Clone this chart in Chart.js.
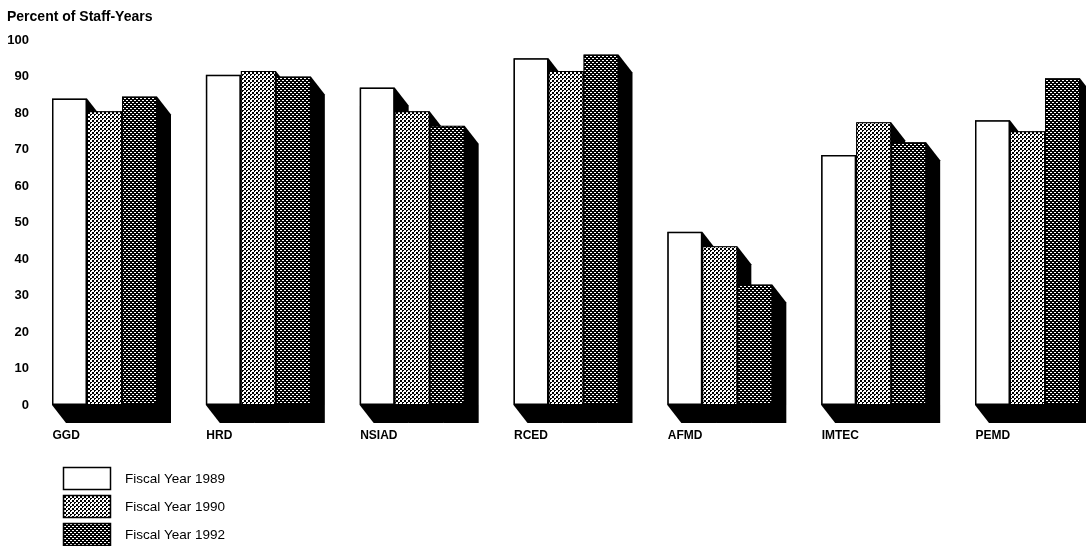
<!DOCTYPE html>
<html>
<head>
<meta charset="utf-8">
<script src="https://cdn.jsdelivr.net/npm/chart.js@4/dist/chart.umd.min.js"></script>
<style>
  html, body { margin: 0; padding: 0; background: #fff; overflow: hidden; }
  #wrap { width: 1086px; height: 546px; position: relative; }
</style>
</head>
<body>
<div id="wrap"><canvas id="c" width="1086" height="546"></canvas></div>
<script>
// Divisions and share of staff-years (percent) per fiscal year
const divisions = ['GGD', 'HRD', 'NSIAD', 'RCED', 'AFMD', 'IMTEC', 'PEMD'];
const fy1989 = [84, 90.5, 87, 95, 47.5, 68.5, 78];
const fy1990 = [80.5, 91.5, 80.5, 91.5, 43.5, 77.5, 75];
const fy1992 = [84.5, 90, 76.5, 96, 33, 72, 89.5];
const seriesLabels = ['Fiscal Year 1989', 'Fiscal Year 1990', 'Fiscal Year 1992'];
const yMin = 0, yMax = 100, yStep = 10;
const yTitle = 'Percent of Staff-Years';

Chart.defaults.font.family = '"Liberation Sans", Arial, Helvetica, sans-serif';
Chart.defaults.color = '#000';

// Halftone fills built from small pixel tiles (1 = black)
function halftone(rows) {
  const n = rows.length;
  const t = document.createElement('canvas');
  t.width = n; t.height = n;
  const tc = t.getContext('2d');
  const img = tc.createImageData(n, n);
  rows.forEach((r, y) => r.forEach((v, x) => {
    const k = (y * n + x) * 4, c = v ? 0 : 255;
    img.data[k] = c; img.data[k + 1] = c; img.data[k + 2] = c; img.data[k + 3] = 255;
  }));
  tc.putImageData(img, 0, 0);
  return document.getElementById('c').getContext('2d').createPattern(t, 'repeat');
}
const lightDots = halftone([[1,1,0,0],[1,1,0,0],[0,0,1,1],[0,0,1,0]]);
const darkDots  = halftone([[1,1,0,0],[1,1,1,1],[0,0,1,1],[1,1,1,1]]);

// Black block extrusion behind every bar (right side and floor)
const DX = 14, DY = 18;
const extrusion = {
  id: 'extrusion',
  beforeDatasetsDraw(chart) {
    const ctx = chart.ctx;
    ctx.save();
    ctx.fillStyle = '#000';
    chart.data.datasets.forEach((ds, i) => {
      chart.getDatasetMeta(i).data.forEach(bar => {
        const { x, y, base, width } = bar.getProps(['x', 'y', 'base', 'width'], true);
        const x0 = x - width / 2, x1 = x + width / 2;
        ctx.beginPath();
        ctx.moveTo(x0, y);
        ctx.lineTo(x1, y);
        ctx.lineTo(x1 + DX, y + DY);
        ctx.lineTo(x1 + DX, base + DY);
        ctx.lineTo(x0 + DX, base + DY);
        ctx.lineTo(x0, base);
        ctx.closePath();
        ctx.fill();
      });
    });
    ctx.restore();
  }
};

// Axis caption above the value labels, and stacked key in the lower-left corner
const captionAndKey = {
  id: 'captionAndKey',
  afterDraw(chart) {
    const ctx = chart.ctx;
    ctx.save();
    ctx.fillStyle = '#000';
    ctx.textAlign = 'left';
    ctx.textBaseline = 'middle';
    ctx.font = 'bold 14px "Liberation Sans", Arial, sans-serif';
    ctx.fillText(yTitle, 7, 17);

    chart.data.datasets.forEach((ds, i) => {
      const top = 467 + i * 28;
      ctx.fillStyle = ds.backgroundColor;
      ctx.fillRect(63, top, 48, 23);
      ctx.strokeStyle = '#000';
      ctx.lineWidth = 1.5;
      ctx.strokeRect(63.5, top + 0.5, 47, 22);
      ctx.fillStyle = '#000';
      ctx.font = '13.5px "Liberation Sans", Arial, sans-serif';
      ctx.fillText(ds.label, 125, top + 12.5);
    });
    ctx.restore();
  }
};

new Chart(document.getElementById('c'), {
  type: 'bar',
  data: {
    labels: divisions,
    datasets: [
      { label: seriesLabels[0], data: fy1989, backgroundColor: '#ffffff', borderColor: '#000', borderWidth: 1.5, borderSkipped: false },
      { label: seriesLabels[1], data: fy1990, backgroundColor: lightDots, borderColor: '#000', borderWidth: 1, borderSkipped: false },
      { label: seriesLabels[2], data: fy1992, backgroundColor: darkDots, borderColor: '#000', borderWidth: 1, borderSkipped: false }
    ]
  },
  options: {
    responsive: false,
    animation: false,
    clip: false,
    categoryPercentage: 0.6826,
    barPercentage: 1,
    layout: { padding: { left: 7, right: 58.5, top: 40, bottom: 80.6 } },
    plugins: {
      legend: { display: false },
      tooltip: { enabled: false },
      title: { display: false }
    },
    scales: {
      x: {
        offset: false,
        grid: { display: false, drawTicks: false },
        border: { display: false },
        ticks: {
          autoSkip: false,
          maxRotation: 0,
          align: 'start',
          labelOffset: -52,
          padding: 23,
          color: '#000',
          font: { size: 12, weight: 'bold' }
        }
      },
      y: {
        min: yMin,
        max: yMax,
        grid: { display: false, drawTicks: false },
        border: { display: false },
        ticks: {
          stepSize: yStep,
          padding: 75.5,
          color: '#000',
          font: { size: 13, weight: 'bold' }
        },
        afterFit(scale) {
          scale.width = 97.5;
          // the wide label gap should not reserve room above and below the plot
          scale.paddingTop = 0;
          scale.paddingBottom = 0;
        }
      }
    }
  },
  plugins: [extrusion, captionAndKey]
});
</script>
</body>
</html>
